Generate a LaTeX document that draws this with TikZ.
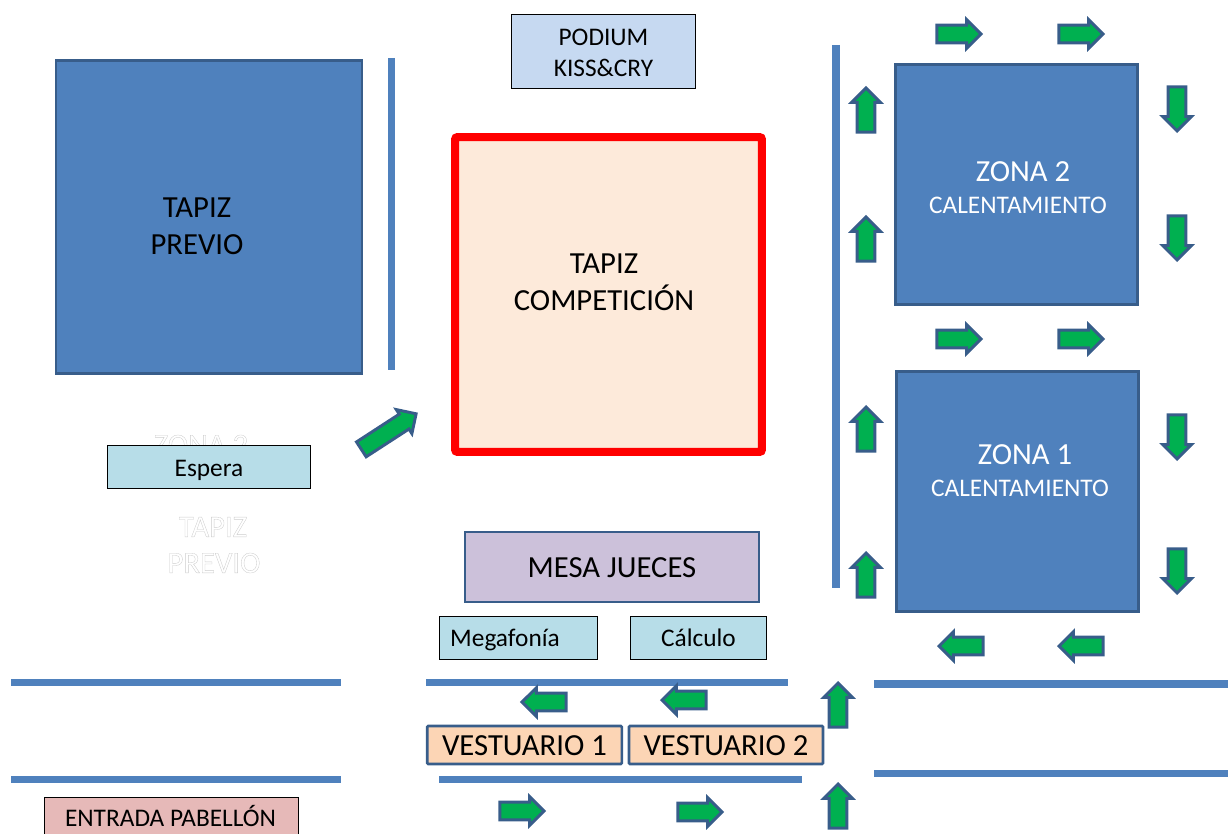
\documentclass[tikz,border=0pt]{standalone}
\usepackage{fontspec}
\setmainfont{Carlito}
\usetikzlibrary{shapes.arrows}
\definecolor{azul}{HTML}{4F81BD}
\definecolor{azuloscuro}{HTML}{385D8A}
\definecolor{verde}{HTML}{00B050}
\definecolor{tapizcolor}{HTML}{FDEADA}
\definecolor{podiumcolor}{HTML}{C6D9F1}
\definecolor{esperacolor}{HTML}{B7DDE8}
\definecolor{entradacolor}{HTML}{E6B9B8}
\definecolor{mesacolor}{HTML}{CCC1DA}
\definecolor{vestuariocolor}{HTML}{FCD5B5}
\newcommand{\grande}{\fontsize{23}{27.5}\selectfont}
\newcommand{\medio}{\fontsize{19}{23}\selectfont}
\newcommand{\hueco}[1]{{\color{white}\special{pdf:code 2 Tr 0.25 w 0.8 G}#1\special{pdf:code 0 Tr}}}
\begin{document}
\begin{tikzpicture}[%
                x=0.75pt, y=-0.75pt,
                zona/.style={shape=rectangle, draw=azuloscuro, fill=azul, line width=2.2pt, inner sep=0pt},
                caja/.style={shape=rectangle, draw=black, line width=0.75pt, inner sep=0pt, align=center, font=\medio},
                unalinea/.style={text height=14pt, text depth=1pt},
                cajaazul/.style={shape=rectangle, draw=azuloscuro, line width=2pt, inner sep=0pt, align=center, font=\grande, text height=17pt, text depth=1pt},
                barra/.style={color=azul, line width=5.4pt},
                flecha/.style={shape=single arrow, draw=azuloscuro, fill=verde, line width=2.2pt, inner sep=5.4pt, minimum height=33pt, minimum width=21.5pt, single arrow head extend=4pt, single arrow head indent=0pt},
                texto/.style={inner sep=0pt, align=center, font=\grande}
        ]
            \useasboundingbox (0,0) rectangle (1228,834);
            \clip (0,0) rectangle (1228,834);
            % letras blancas
            \node [texto] (fzona) at (201,445) {\hueco{ZONA 2}};
            \node [texto] (ftapiz) at (213,527) {\hueco{TAPIZ}};
            \node [texto] (fprevio) at (214,563) {\hueco{PREVIO}};
            % tapices
            \node [zona, minimum width=229.5pt, minimum height=234.5pt] (previo) at (209,217) {};
            \node [shape=rectangle, draw=red, fill=tapizcolor, line width=6pt, rounded corners=1.5pt, minimum width=230pt, minimum height=236pt, inner sep=0pt] (competicion) at (608.5,294.5) {};
            \node [zona, minimum width=182pt, minimum height=180pt] (zonados) at (1016.5,184.5) {};
            \node [zona, minimum width=182pt, minimum height=180pt] (zonauno) at (1017.5,491.5) {};
            \node [texto] (previot) at (197,226) {TAPIZ\\PREVIO};
            \node [texto] (competiciont) at (604,282) {TAPIZ\\COMPETICIÓN};
            \node [texto, text=white] (zonadost) at (1023,172) {ZONA 2};
            \node [texto, text=white, font=\medio] (zonadosc) at (1018,205) {CALENTAMIENTO};
            \node [texto, text=white] (zonaunot) at (1025,455) {ZONA 1};
            \node [texto, text=white, font=\medio] (zonaunoc) at (1020,488) {CALENTAMIENTO};
            % cajas
            \node [caja, fill=podiumcolor, minimum width=138.5pt, minimum height=55.5pt] (podium) at (603.5,52) {};
            \node [caja, fill=esperacolor, minimum width=152.5pt, minimum height=32.5pt] (espera) at (209,467) {};
            \node [caja, fill=esperacolor, minimum width=119pt, minimum height=32.5pt] (megafonia) at (518.5,638) {};
            \node [caja, fill=esperacolor, minimum width=102.5pt, minimum height=32.5pt] (calculo) at (698.5,638) {};
            \node [caja, fill=entradacolor, minimum width=190pt, minimum height=33pt] (entrada) at (171.5,819) {};
            \node [texto, font=\medio] (podiumt) at (603.5,53) {PODIUM\\KISS\&CRY};
            \node [texto, unalinea, font=\medio] (esperat) at (209,468) {Espera};
            \node [texto, unalinea, font=\medio] (megafoniat) at (505,638) {Megafonía};
            \node [texto, unalinea, font=\medio] (calculot) at (698.5,638) {Cálculo};
            \node [texto, unalinea, font=\medio] (entradat) at (170.5,818) {ENTRADA PABELLÓN};
            \node [cajaazul, fill=mesacolor, minimum width=220.5pt, minimum height=52.5pt] (mesa) at (612,567) {MESA JUECES};
            \node [cajaazul, fill=vestuariocolor, rounded corners=0.8pt, minimum width=146pt, minimum height=28.5pt] (vestuariouno) at (524.5,745) {VESTUARIO 1};
            \node [cajaazul, fill=vestuariocolor, rounded corners=0.8pt, minimum width=145.5pt, minimum height=28.5pt] (vestuariodos) at (726,745) {VESTUARIO 2};
            % barras
            \foreach \myxa/\myya/\myxb/\myyb in {391.5/58/391.5/370, 836/45/836/588, 11/682.5/341/682.5, 426/682.5/788/682.5, 874/684/1228/684, 11/779.5/341/779.5, 439/779.5/802/779.5, 874/773.5/1228/773.5} {
                \draw [barra] (\myxa,\myya) -- (\myxb,\myyb);
            }
            % flechas
            \foreach \myname/\myx/\myy in {a/954.5/34, b/1076.5/34, c/954.5/339, d/1076.5/339, e/517.5/811, f/695.5/812} {
                \node [flecha] (der\myname) at (\myx,\myy) {};
            }
            \foreach \myname/\myx/\myy in {a/1177/104.5, b/1177/233.5, c/1177/432.5, d/1177/566.5} {
                \node [flecha, rotate=-90] (baj\myname) at (\myx,\myy) {};
            }
            \foreach \myname/\myx/\myy in {a/866/114.5, b/866/243.5, c/866/433.5, d/866/579.5, e/838/709.5, f/838/810.5} {
                \node [flecha, rotate=90] (sub\myname) at (\myx,\myy) {};
            }
            \foreach \myname/\myx/\myy in {a/965.5/646, b/1085.5/646, c/548.5/702, d/688.5/700} {
                \node [flecha, rotate=180] (izq\myname) at (\myx,\myy) {};
            }
            \node [flecha, rotate=33, minimum height=49pt] (diagonal) at (385,434) {};
        \end{tikzpicture}
\end{document}
